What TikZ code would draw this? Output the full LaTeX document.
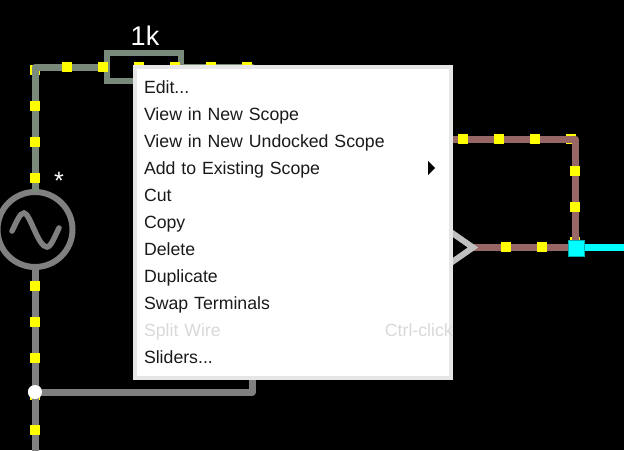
\documentclass[tikz,border=0pt]{standalone}
\usepackage{fontspec}
\setmainfont{Liberation Sans}
\usepackage{xcolor}
\usetikzlibrary{positioning,shapes.geometric}
\definecolor{WireGreen}{HTML}{7A8A7A}
\definecolor{WireGray}{HTML}{808080}
\definecolor{WireRed}{HTML}{996666}
\definecolor{Chip}{HTML}{C0C0C0}
\definecolor{Hot}{HTML}{00FFFF}
\definecolor{HotEdge}{HTML}{00B0B0}
\definecolor{Probe}{HTML}{FFFF00}
\definecolor{MenuEdge}{HTML}{E6E6E6}
\definecolor{MenuText}{HTML}{1A1A1A}
\definecolor{MenuOff}{HTML}{D9D9D9}
\tikzset{
  wire/.style={line width=7pt, line join=round, line cap=round},
  greenwire/.style={wire, draw=WireGreen},
  graywire/.style={wire, draw=WireGray},
  redwire/.style={wire, draw=WireRed},
  hotwire/.style={line width=7pt, draw=Hot},
  probe/.style={rectangle, fill=Probe, minimum size=9.5pt, inner sep=0pt},
  outputpost/.style={fill=Hot, draw=HotEdge, line width=0.5pt, minimum size=16pt, inner sep=0pt},
  menubox/.style={draw=MenuEdge, line width=4pt, fill=white, minimum width=316pt, minimum height=311pt, inner sep=0pt},
  menuitem/.style={text=MenuText, text width=300pt, align=left, inner sep=0pt, outer sep=0pt, minimum height=27pt, text height=13pt, text depth=4pt, font=\fontsize{17.7}{20}\selectfont},
  menuoff/.style={menuitem, text=MenuOff}
}
\begin{document}
\begin{tikzpicture}[x=1pt, y=-1pt]
  \useasboundingbox (0,0) rectangle (624,450);
  \fill[black] (0,0) rectangle (624,450);

  % circuit parts
  \node[draw=WireGreen, line width=6pt, minimum width=74pt, minimum height=28pt, inner sep=0pt] (resistor) at (143.5,67) {};
  \node[text=white, inner sep=0pt, font=\fontsize{27}{30}\selectfont] (reslabel) at (145,36) {1k};
  \node[circle, draw=WireGray, line width=6pt, minimum size=75pt, inner sep=0pt] (source) at (35,229.5) {};
  \node[text=white, inner sep=0pt, font=\fontsize{25}{28}\selectfont] (star) at (59,180.5) {*};
  \draw[WireGray, line width=5.5pt, line cap=round] (12,231) .. controls (17,221) and (20,213) .. (24,213)
    .. controls (30,213) and (38,247) .. (47,247) .. controls (51,247) and (55,236) .. (59,228);

  \coordinate (topleft) at (35,67);
  \coordinate (topright) at (252,67);
  \coordinate (bottom) at (35,450);
  \coordinate (feedback) at (252,380);
  \coordinate (loopstart) at (450,139);
  \coordinate (loopcorner) at (575,139);
  \coordinate (chipout) at (473,247.5);
  \coordinate (chiptop) at (445,228);
  \coordinate (chipbot) at (445,267);
  \coordinate (rightedge) at (624,247.5);

  % probes the wires run over
  \node[probe] (cornerA) at (35,70) {};
  \node[probe] (cornerB) at (571,139) {};
  \node[probe] (cornerC) at (575,242) {};
  \node[probe] (cornerD) at (35,395) {};

  \node[circle, fill=white, minimum size=14pt, inner sep=0pt] (junction) at (35,392) {};
  \node[outputpost] (output) at (576.5,248.5) {};

  \draw[greenwire] (resistor.west) -- (topleft) -- (source.north);
  \draw[greenwire] (resistor.east) -- (topright);
  \draw[graywire] (source.south) -- (bottom);
  \draw[graywire] (junction.center) -| (feedback);
  \draw[redwire] (loopstart) -- (loopcorner) -- (loopcorner |- output);
  \draw[redwire] (chipout) -- (chipout -| output);
  \draw[Chip, line width=6pt, line join=miter] (chiptop) -- (chipout) -- (chipbot);
  \draw[hotwire] (rightedge -| output) -- (rightedge);
  \node[circle, fill=white, minimum size=14pt, inner sep=0pt] (junctiontop) at (junction) {};
  \node[outputpost] (outputtop) at (output) {};

  % moving probes
  \foreach \i/\px/\py in {1/67/67,2/103/67,3/139/67,4/175/67,5/211/67,6/247/67,
                          7/35/106,8/35/142,9/35/178,10/35/286,11/35/322,12/35/358,13/35/430,
                          14/463/139,15/499/139,16/535/139,17/575/171,18/575/207,19/506/247,20/542/247}
    \node[probe] (dot\i) at (\px,\py) {};

  % popup menu
  \node[menubox] (menu) at (293,222.5) {};
  \node[menuitem] (edit) at (294,88.5) {Edit...};
  \node[menuitem, below=0pt of edit] (newscope) {View in New Scope};
  \node[menuitem, below=0pt of newscope] (undocked) {View in New Undocked Scope};
  \node[menuitem, below=0pt of undocked] (existing) {Add to Existing Scope};
  \node[menuitem, below=0pt of existing] (cut) {Cut};
  \node[menuitem, below=0pt of cut] (copy) {Copy};
  \node[menuitem, below=0pt of copy] (delete) {Delete};
  \node[menuitem, below=0pt of delete] (duplicate) {Duplicate};
  \node[menuitem, below=0pt of duplicate] (swap) {Swap Terminals};
  \node[menuoff, below=0pt of swap] (split) {Split Wire};
  \node[menuitem, below=0pt of split] (sliders) {Sliders...};
  \node[text=MenuOff, inner sep=0pt, anchor=base east, font=\fontsize{17.7}{20}\selectfont] (shortcut) at (split.base -| menu.east) {Ctrl-click};
  \fill[black] (428,161) -- (435,168) -- (428,175) -- cycle;
\end{tikzpicture}
\end{document}
